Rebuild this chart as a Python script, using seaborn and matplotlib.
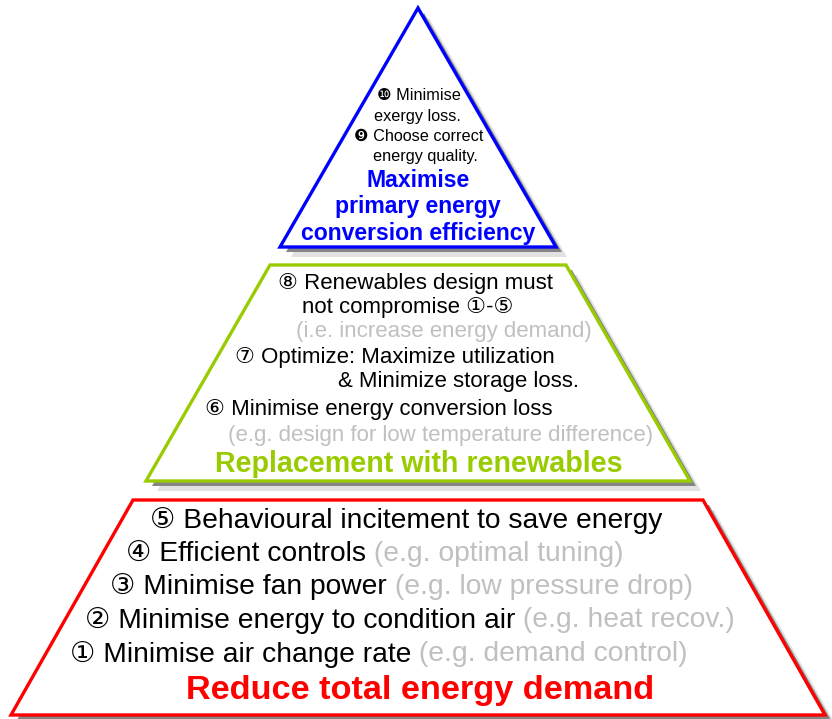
import matplotlib
matplotlib.use("Agg")
import matplotlib.pyplot as plt
import seaborn as sns

# tiers of the pyramid, top to bottom
tier_titles = ["Maximise\nprimary energy\nconversion efficiency",
               "Replacement with renewables",
               "Reduce total energy demand"]
tier_colors = ["#0000ff", "#99cc00", "#ff0000"]

# shape of each tier (pixels, y going down)
center_x = 418
tier_top_y = [8, 265, 500]
tier_bottom_y = [247, 481, 715]
tier_top_half = [0, 148, 285]
tier_bottom_half = [138, 272, 407]

# text of each tier
top_items = ["\u277f Minimise", "exergy loss.", "\u277e Choose correct", "energy quality."]
mid_items = ["\u2467 Renewables design must", "not compromise \u2460-\u2464",
             "(i.e. increase energy demand)", "\u2466 Optimize: Maximize utilization",
             "& Minimize storage loss.", "\u2465 Minimise energy conversion loss",
             "(e.g. design for low temperature difference)"]
mid_is_example = [False, False, True, False, False, False, True]
low_items = ["\u2464 Behavioural incitement to save energy", "\u2463 Efficient controls",
             "\u2462 Minimise fan power", "\u2461 Minimise energy to condition air",
             "\u2460 Minimise air change rate"]
low_examples = ["", "(e.g. optimal tuning)", "(e.g. low pressure drop)",
                "(e.g. heat recov.)", "(e.g. demand control)"]

# layout of the text lines (left x, centre y)
top_pos = [(377, 96), (374, 116), (354, 136), (373, 156)]
mid_pos = [(278, 284), (302, 308), (296, 332), (235, 357), (338, 381), (205, 409), (228, 435)]
low_pos = [(150, 521), (126, 554), (110, 587), (85, 620), (70, 654)]
title_pos = [(418, 207), (419, 464), (420, 690)]
title_size = [16.6, 20.6, 24.7]
title_spacing = [1.17, 1.2, 1.2]

sns.set_style("white")
plt.rcParams["font.family"] = ["Liberation Sans", "DejaVu Sans", "Noto Sans CJK JP"]
GRAY = "#c0c0c0"

fig = plt.figure(figsize=(8.32, 7.19), dpi=100)
ax = fig.add_axes([0, 0, 1, 1])
ax.set_xlim(0, 832)
ax.set_ylim(719, 0)
ax.axis("off")

for i in range(3):
    xs = [center_x - tier_top_half[i], center_x + tier_top_half[i],
          center_x + tier_bottom_half[i], center_x - tier_bottom_half[i]]
    ys = [tier_top_y[i], tier_top_y[i], tier_bottom_y[i], tier_bottom_y[i]]
    # drop shadow: light then dark
    ax.fill([x + 11 for x in xs], [y + 10 for y in ys], color="#e2e2e2", lw=0, zorder=1)
    ax.fill([x + 6 for x in xs], [y + 5 for y in ys], color="#858585", lw=0, zorder=2)
    ax.fill(xs, ys, facecolor="white", edgecolor=tier_colors[i], lw=2.4,
            joinstyle="miter", zorder=3)

for (x, y), s in zip(top_pos, top_items):
    ax.text(x, y, s, fontsize=11.7, va="center", ha="left", color="black", zorder=5)

for (x, y), s, ex in zip(mid_pos, mid_items, mid_is_example):
    ax.text(x, y, s, fontsize=16, va="center", ha="left",
            color=GRAY if ex else "black", zorder=5)

for (x, y), s, ex in zip(low_pos, low_items, low_examples):
    t = ax.text(x, y, s, fontsize=20.3, va="center", ha="left", color="black", zorder=5)
    if ex:
        ax.annotate(" " + ex, xy=(1, 0.5), xycoords=t, fontsize=20.3, va="center",
                    ha="left", color=GRAY, zorder=5)

for i in range(3):
    ax.text(title_pos[i][0], title_pos[i][1], tier_titles[i], fontsize=title_size[i],
            fontweight="bold", color=tier_colors[i], ha="center", va="center",
            linespacing=title_spacing[i], zorder=5)

fig.savefig("out.png", dpi=100)
